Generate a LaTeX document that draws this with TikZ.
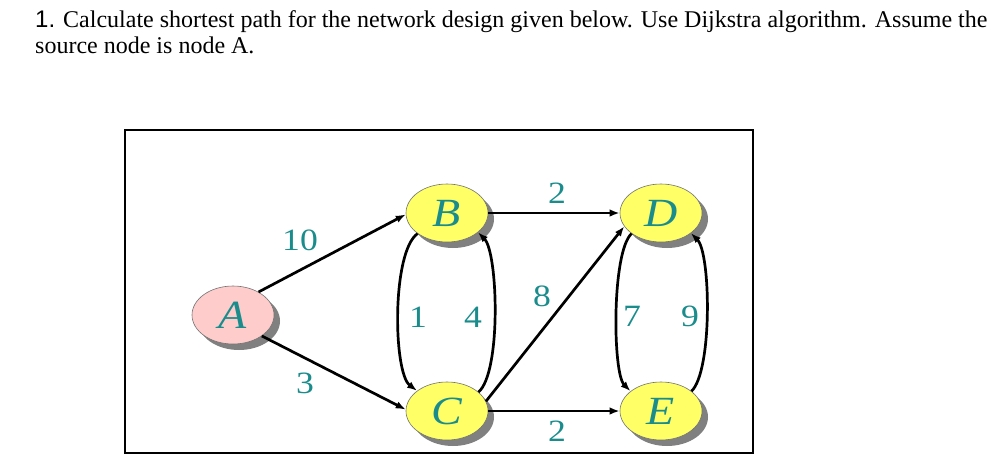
\documentclass[tikz,border=0pt]{standalone}
\usepackage{fontspec}
\setmainfont{Liberation Serif}
\setsansfont{Liberation Sans}
\newfontfamily\diagfont[FakeStretch=1.15]{Liberation Serif}
\usetikzlibrary{shapes.geometric,shadows,arrows.meta}
\definecolor{teal1}{RGB}{26,140,140}
\definecolor{pinkfill}{RGB}{255,204,204}
\definecolor{yellowfill}{RGB}{255,255,102}
\tikzset{
  vert/.style={ellipse, minimum width=82pt, minimum height=58pt, inner sep=0pt,
    draw=black!55, line width=0.6pt, fill=yellowfill,
    drop shadow={shadow xshift=6pt, shadow yshift=-6pt, fill=black!50, opacity=1},
    text=teal1, font=\diagfont\fontsize{40}{42}\selectfont\itshape},
  srcvert/.style={vert, fill=pinkfill},
  wlabel/.style={text=teal1, font=\diagfont\fontsize{31}{33}\selectfont, inner sep=0pt},
  edge/.style={line width=2.7pt, -{Latex[length=10pt,width=7.5pt]}},
  titletext/.style={anchor=base west, inner sep=0pt, font=\fontsize{24}{28}\selectfont}
}
\begin{document}
\begin{tikzpicture}[x=1pt,y=-1pt]
\useasboundingbox (0,0) rectangle (1005,467);
\node[titletext] (t1) at (35,27) {{\sffamily 1.} Calculate shortest path for the network design given below. Use Dijkstra algorithm. Assume the};
\node[titletext] (t2) at (35,53) {source node is node A.};
\node[draw, line width=2pt, minimum width=628pt, minimum height=323pt, inner sep=0pt, anchor=north west] (frame) at (124,129) {};

\node[srcvert] (A) at (233,315) {A};
\node[vert] (B) at (447,213) {B};
\node[vert] (C) at (447,411) {C};
\node[vert] (D) at (661,213) {D};
\node[vert] (E) at (661,411) {E};

\draw[edge] (A.42) -- (B.182);
\draw[edge] (A.-36) -- (C.178);
\draw[edge] (B.east) -- (D.west);
\draw[edge] (C.east) -- (E.west);
\draw[edge] (C.14) -- (D.200);
\draw[edge] (B.215) .. controls +(-26,18) and +(-24,-18) .. (C.146);
\draw[edge] (C.31) .. controls +(23,-20) and +(20,20) .. (B.-32);
\draw[edge] (D.215) .. controls +(-20,18) and +(-18,-18) .. (E.147);
\draw[edge] (E.33) .. controls +(21,-20) and +(20,20) .. (D.-34);

\node[wlabel] (l10) at (300,240) {10};
\node[wlabel] (l3) at (305,383) {3};
\node[wlabel] (lbd) at (557,193) {2};
\node[wlabel] (lce) at (557,431) {2};
\node[wlabel] (lcd) at (542,296) {8};
\node[wlabel] (lbc) at (418,317) {1};
\node[wlabel] (lcb) at (473,317) {4};
\node[wlabel] (lde) at (632,316) {7};
\node[wlabel] (led) at (690,316) {9};
\end{tikzpicture}
\end{document}
